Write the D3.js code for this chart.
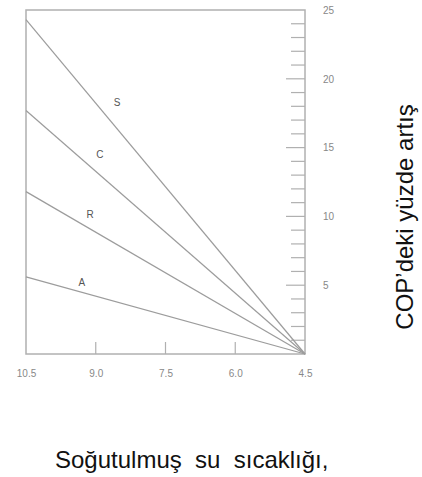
<!DOCTYPE html>
<html>
<head>
<meta charset="utf-8">
<script src="https://cdn.jsdelivr.net/npm/d3@7"></script>
<style>
  body { margin: 0; background: #fff; }
  svg { display: block; font-family: "Liberation Sans", Arial, sans-serif; }
</style>
</head>
<body>
<svg id="chart" width="422" height="477"></svg>
<script>
// chilled water temperature (x) and COP increase per series
const xDomain = [10.5, 4.5];
const xTicks = [10.5, 9.0, 7.5, 6.0, 4.5];
const yMajorTicks = [5, 10, 15, 20, 25];
const seriesNames = ["S", "C", "R", "A"];
const startValues = [24.3, 17.7, 11.8, 5.6]; // at 10.5
const endValues = [0, 0, 0, 0];               // at 4.5
const labelAt = [[8.54, 18.2], [8.91, 14.4], [9.12, 10.1], [9.3, 5.1]];

const svg = d3.select("#chart");
const plotLeft = 26, plotRight = 305, plotTop = 10, plotBottom = 354;

const x = d3.scaleLinear().domain(xDomain).range([plotLeft, plotRight]);
const y = d3.scaleLinear().domain([0, 25]).range([plotBottom, plotTop]);

const axisColor = "#b0b0b0";
const lineColor = "#9c9c9c";

// frame
svg.append("rect")
    .attr("x", plotLeft).attr("y", plotTop)
    .attr("width", plotRight - plotLeft).attr("height", plotBottom - plotTop)
    .attr("fill", "none").attr("stroke", axisColor).attr("stroke-width", 1.5);

// bottom axis labels
const xAxis = svg.append("g").attr("transform", `translate(0,${plotBottom})`)
    .call(d3.axisBottom(x).tickValues(xTicks).tickFormat(d3.format(".1f")).tickSizeInner(0).tickPadding(16));
xAxis.select(".domain").remove();
xAxis.selectAll("text").attr("fill", "#888").attr("font-size", 10);

// bottom ticks (inward)
svg.append("g").selectAll("line")
    .data(xTicks.slice(1, -1))
    .enter().append("line")
    .attr("x1", d => x(d)).attr("x2", d => x(d))
    .attr("y1", plotBottom).attr("y2", plotBottom - 12)
    .attr("stroke", axisColor).attr("stroke-width", 1.2);

// right axis: minor ticks every 1, longer at every 5
const yTicks = d3.range(1, 25);
svg.append("g").selectAll("line")
    .data(yTicks)
    .enter().append("line")
    .attr("x1", plotRight)
    .attr("x2", d => plotRight - (d % 5 === 0 ? 19 : 14))
    .attr("y1", d => y(d)).attr("y2", d => y(d))
    .attr("stroke", axisColor).attr("stroke-width", 1.2);

const yAxis = svg.append("g").attr("transform", `translate(${plotRight},0)`)
    .call(d3.axisRight(y).tickValues(yMajorTicks).tickSizeInner(0).tickPadding(18));
yAxis.select(".domain").remove();
yAxis.selectAll("text").attr("fill", "#888").attr("font-size", 10);

// series lines
const line = d3.line().x(d => x(d[0])).y(d => y(d[1]));
svg.append("g").selectAll("path")
    .data(seriesNames.map((n, i) => [[xDomain[0], startValues[i]], [xDomain[1], endValues[i]]]))
    .enter().append("path")
    .attr("d", line)
    .attr("fill", "none").attr("stroke", lineColor).attr("stroke-width", 1.2);

svg.append("g").selectAll("text")
    .data(seriesNames)
    .enter().append("text")
    .attr("x", (d, i) => x(labelAt[i][0]))
    .attr("y", (d, i) => y(labelAt[i][1]))
    .attr("text-anchor", "middle")
    .attr("dominant-baseline", "middle")
    .attr("font-size", 10).attr("fill", "#555")
    .text(d => d);

// axis titles
svg.append("text")
    .attr("transform", "translate(413,217) rotate(-90)")
    .attr("text-anchor", "middle")
    .attr("font-size", 24).attr("fill", "#111")
    .text("COP’deki yüzde artış");

svg.append("text")
    .attr("x", 55).attr("y", 468)
    .attr("font-size", 24).attr("fill", "#111")
    .text("Soğutulmuş\u00a0 su\u00a0 sıcaklığı,");
</script>
</body>
</html>
